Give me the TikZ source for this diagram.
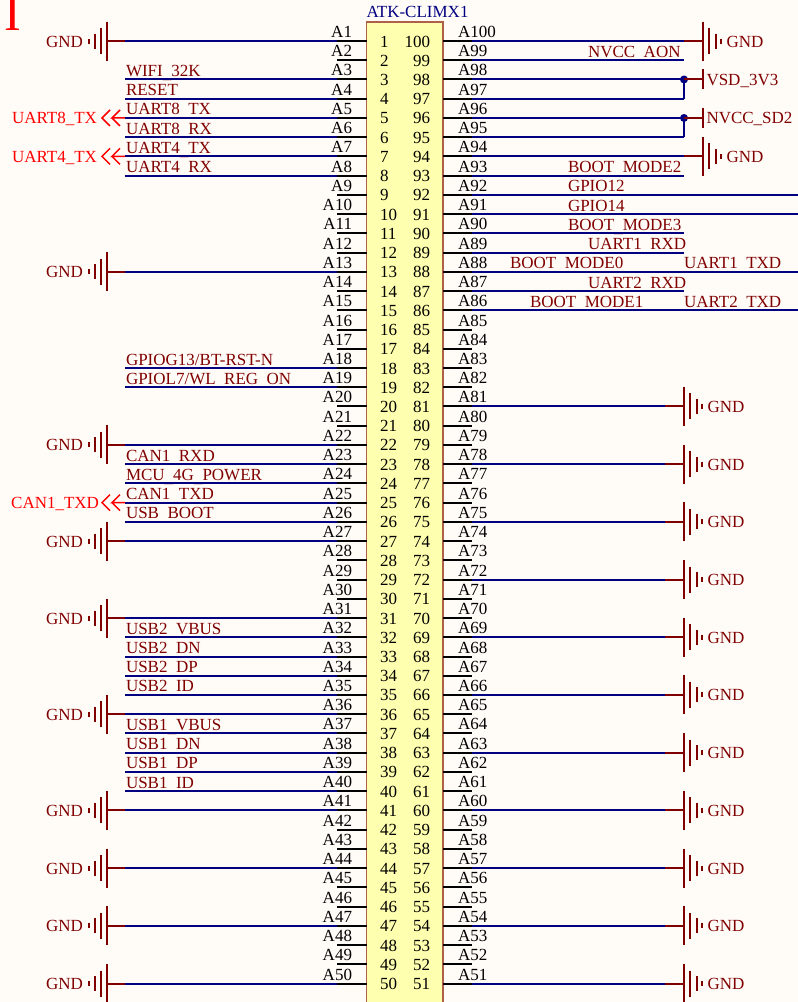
\documentclass[tikz,border=0pt]{standalone}
\usepackage{fontspec}
\setmainfont{Liberation Serif}
\definecolor{sheetbg}{RGB}{255,252,248}
\definecolor{partfill}{RGB}{255,255,176}
\definecolor{partline}{RGB}{176,96,72}
\definecolor{wireblue}{RGB}{0,0,128}
\definecolor{netred}{RGB}{128,0,0}
\definecolor{portred}{RGB}{255,0,0}
\newcommand{\us}{\raisebox{-1.7pt}{\_}}

\begin{document}
\begin{tikzpicture}[x=1pt,y=-1pt]
\tikzset{every node/.style={inner sep=0pt,outer sep=0pt,font=\fontsize{17}{20}\selectfont}}
\tikzset{stub/.style={line width=2pt,black}}
\tikzset{wire/.style={line width=2pt,wireblue}}
\tikzset{power/.style={line width=2pt,netred}}
\tikzset{chevron/.style={line width=1.5pt,portred}}
\tikzset{netlabel/.style={text=netred,anchor=base west}}
\tikzset{portlabel/.style={text=portred,anchor=base east}}

\useasboundingbox (0,0) rectangle (798,1002);
\fill[sheetbg] (0,0) rectangle (798,1002);
\node[anchor=base west,text=portred,font=\fontsize{50}{50}\selectfont] (sheetmark) at (4.2,30) {I};

% connector body
\node[draw=partline,fill=partfill,line width=1.2pt,anchor=north west,minimum width=76.5pt,minimum height=1000pt] (atk) at (366.5,22) {};
\node[anchor=base west,text=wireblue] (atkname) at (366.5,17) {ATK-CLIMX1};

% one row: pin names, numbers, stubs
\foreach \r in {1,...,50}{
  \pgfmathsetmacro\ypos{41+(\r-1)*19.235}
  \pgfmathtruncatemacro\q{101-\r}
  \coordinate (PL\r) at (366.5,\ypos);
  \coordinate (SL\r) at (337,\ypos);
  \coordinate (WL\r) at (125,\ypos);
  \coordinate (PR\r) at (443,\ypos);
  \coordinate (SR\r) at (472,\ypos);
  \coordinate (WR\r) at (684,\ypos);
  \coordinate (GR\r) at (665,\ypos);
  \coordinate (ER\r) at (798,\ypos);
  \node[anchor=base east] (AL\r) at (352,\ypos-3.5) {A\r};
  \node[anchor=base west] (AR\r) at (458,\ypos-3.5) {A\q};
  \node[anchor=base west] (NL\r) at (380,\ypos+6) {\r};
  \node[anchor=base east] (NR\r) at (430,\ypos+6) {\q};
  \draw[stub] (PL\r) -- (SL\r);
  \draw[stub] (PR\r) -- (SR\r);
}

% net names sit under the wires
\foreach \r/\t in {3/WIFI\us 32K,4/RESET,5/UART8\us TX,6/UART8\us RX,7/UART4\us TX,8/UART4\us RX,
    18/GPIOG13\slash BT-RST-N,19/GPIOL7\slash WL\us REG\us ON,23/CAN1\us RXD,24/MCU\us 4G\us POWER,
    25/CAN1\us TXD,26/USB\us BOOT,32/USB2\us VBUS,33/USB2\us DN,34/USB2\us DP,35/USB2\us ID,
    37/USB1\us VBUS,38/USB1\us DN,39/USB1\us DP,40/USB1\us ID}{
  \node[netlabel,xshift=1pt,yshift=3pt] (LN\r) at (WL\r) {\t};
  \draw[wire] (SL\r) -- (WL\r);
}
\foreach \r/\x/\t in {2/588/NVCC\us AON,8/568/BOOT\us MODE2,9/568/GPIO12,10/568/GPIO14,
    11/568/BOOT\us MODE3,12/588/UART1\us RXD,13/510/BOOT\us MODE0,14/588/UART2\us RXD,15/530/BOOT\us MODE1}
  \node[netlabel,yshift=3pt] (RN\r) at (\x,0 |- WR\r) {\t};
\node[netlabel,yshift=3pt] (RN13b) at (684,0 |- WR13) {UART1\us TXD};
\node[netlabel,yshift=3pt] (RN15b) at (684,0 |- WR15) {UART2\us TXD};

% right wires
\foreach \r in {2,3,4,5,6,8,11,12,14}
  \draw[wire] (SR\r) -- (WR\r);
\foreach \r in {9,10,13,15}
  \draw[wire] (SR\r) -- (ER\r);

% red off-sheet ports
\foreach \r/\s/\t in {5/28/UART8\_TX,7/28/UART4\_TX,25/26/CAN1\_TXD}{
  \node[portlabel,yshift=-6pt,xshift=-\s pt] (PP\r) at (WL\r) {\t};
  \draw[chevron] (WL\r) -- ++(-13,0) -- ++(8,-8) ++(-8,8) -- ++(8,8);
  \draw[chevron] (WL\r) ++(-15,-8) -- ++(-8,8) -- ++(8,8);
}

% junctions to the power rails
\foreach \a/\b/\t in {3/4/VSD\_3V3,5/6/NVCC\_SD2}{
  \coordinate (RB\a) at (703,0 |- WR\a);
  \draw[wire] (WR\b) -- (WR\a);
  \fill[wireblue] (WR\a) circle (4);
  \draw[power] (WR\a) -- (RB\a);
  \draw[power] (RB\a) ++(0,-10) -- ++(0,20);
  \node[anchor=base west,text=netred,xshift=3.5pt,yshift=-6pt] (RP\a) at (RB\a) {\t};
}

% ground on the right
\foreach \r/\w in {1/WR,7/WR,20/GR,23/GR,26/GR,29/GR,32/GR,35/GR,38/GR,41/GR,44/GR,47/GR,50/GR}{
  \draw[wire] (SR\r) -- (\w\r);
  \draw[power] (\w\r) -- ++(19,0) coordinate (GB\r);
  \draw[power] (GB\r) ++(0,-19.5) -- ++(0,39);
  \draw[power] (GB\r) ++(6,-13) -- ++(0,26);
  \draw[power] (GB\r) ++(12.5,-7.5) -- ++(0,15);
  \draw[power] (GB\r) ++(18,-2.5) -- ++(0,5);
  \node[anchor=base west,text=netred,xshift=23.5pt,yshift=-6pt] (GT\r) at (GB\r) {GND};
}

% ground on the left
\foreach \r in {1,13,22,27,31,36,41,44,47,50}{
  \draw[wire] (SL\r) -- (WL\r);
  \draw[power] (WL\r) -- ++(-18,0) coordinate (GA\r);
  \draw[power] (GA\r) ++(0,-19.5) -- ++(0,39);
  \draw[power] (GA\r) ++(-6,-13) -- ++(0,26);
  \draw[power] (GA\r) ++(-12.5,-7.5) -- ++(0,15);
  \draw[power] (GA\r) ++(-18,-2.5) -- ++(0,5);
  \node[anchor=base east,text=netred,xshift=-24pt,yshift=-6pt] (GS\r) at (GA\r) {GND};
}
\end{tikzpicture}
\end{document}
